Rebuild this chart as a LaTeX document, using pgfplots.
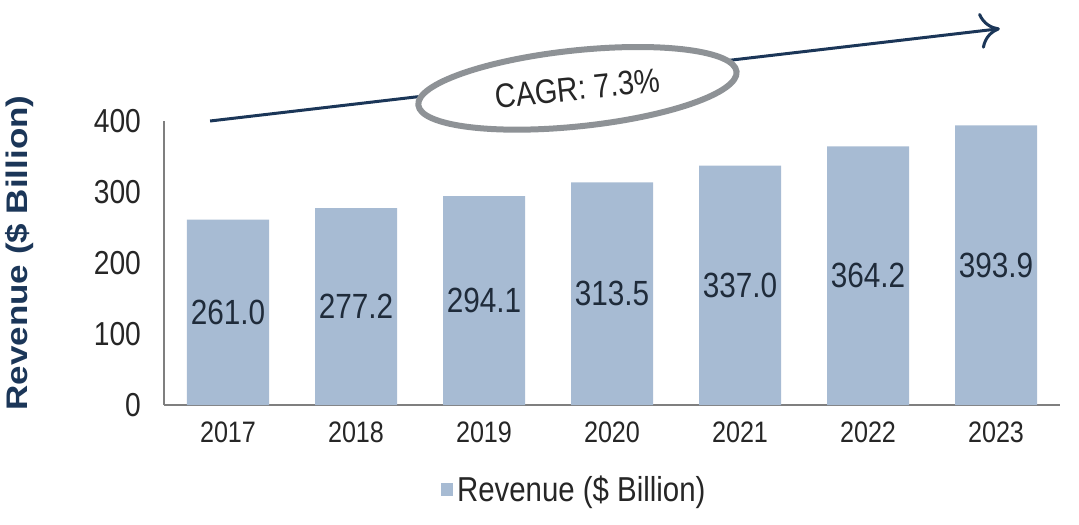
\documentclass[border=0pt]{standalone}
\usepackage{fontspec}
\setmainfont{Liberation Sans}[FakeStretch=0.85]
\newfontfamily\ylabfont{Liberation Sans}
\usepackage{graphicx}
\usepackage{pgfplots}
\pgfplotsset{compat=1.18}
\usetikzlibrary{arrows.meta,shapes.geometric}
\definecolor{barblue}{HTML}{A7BBD3}
\definecolor{navy}{HTML}{1B3658}
\definecolor{axisgray}{HTML}{7F7F7F}
\definecolor{ringgray}{HTML}{8E9296}
\definecolor{txt}{HTML}{262626}
\definecolor{lbl}{HTML}{1F2B3A}
\begin{document}
\begin{tikzpicture}
\begin{axis}[
    name=ax,
    scale only axis,
    width=448pt, height=142pt,
    ybar, bar width=41pt,
    xmin=-0.5, xmax=6.5,
    ymin=0, ymax=400,
    xtick=data,
    xticklabels={2017,2018,2019,2020,2021,2022,2023},
    ytick={0,100,200,300,400},
    axis lines*=left,
    axis line style={axisgray, line width=1.2pt},
    major tick length=0pt,
    /pgf/number format/assume math mode=true,
    tick label style={text=txt},
    xticklabel style={yshift=-5pt, font=\fontsize{14.8}{17}\selectfont},
    yticklabel style={xshift=-8pt, font=\fontsize{16.6}{19}\selectfont},
    ylabel={\scalebox{1}[0.85]{\ylabfont\bfseries Revenue (\$ Billion)}},
    ylabel style={at={(axis description cs:0,0.5)}, anchor=center,
        yshift=72pt, xshift=5pt, font=\fontsize{17.5}{20}\selectfont, text=navy},
    clip=false,
    nodes near coords,
    visualization depends on={rawy \as \rawy},
    every node near coord/.append style={anchor=center,
        shift={(axis direction cs:0,-\rawy/2)},
        font=\fontsize{17.5}{20}\selectfont, text=lbl,
        /pgf/number format/.cd, fixed, fixed zerofill, precision=1},
    legend style={at={(0.459,-0.30)}, anchor=center, draw=none,
        font=\fontsize{17.3}{20}\selectfont, text=txt},
    legend image code/.code={\fill[barblue] (0pt,-3pt) rectangle (6pt,3.5pt);},
]
\addplot[fill=barblue, draw=none] coordinates {
    (0,261.0) (1,277.2) (2,294.1) (3,313.5) (4,337.0) (5,364.2) (6,393.9)};
\addlegendentry{Revenue (\$ Billion)}
\draw[navy, line width=1.5pt, -{To[length=10pt,width=18pt]}]
    (axis cs:-0.14,400) -- (axis cs:6.03,530);
\node[draw=ringgray, line width=3pt, fill=white, ellipse,
      minimum width=160pt, minimum height=38pt, rotate=6,
      font=\fontsize{17}{20}\selectfont, text=txt]
    at (axis cs:2.73,446) {CAGR: 7.3\%};
\end{axis}
\pgfresetboundingbox
\path ([shift={(-82pt,-59.5pt)}]ax.south west) rectangle ([shift={(9.5pt,60.5pt)}]ax.north east);
\end{tikzpicture}
\end{document}
